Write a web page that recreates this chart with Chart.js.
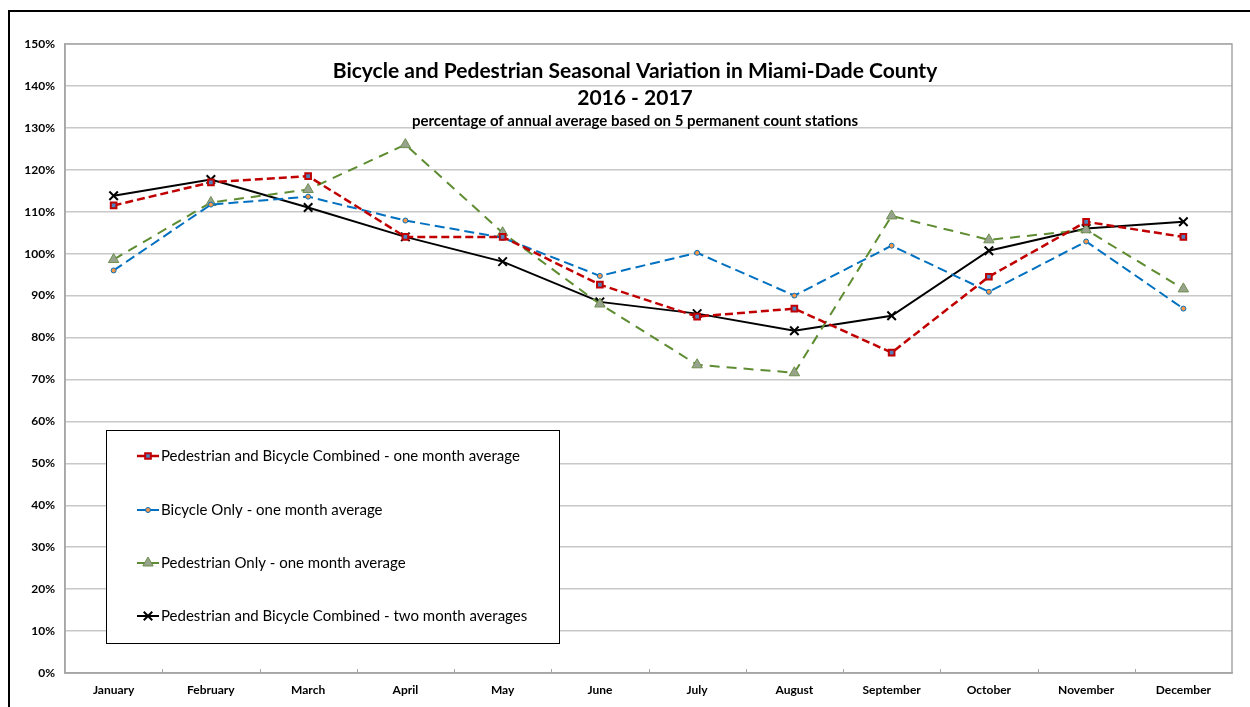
<!DOCTYPE html>
<html lang="en">
<head>
<meta charset="utf-8">
<script src="https://cdn.jsdelivr.net/npm/chart.js@4.4.0/dist/chart.umd.min.js"></script>
<style>
  html, body { margin: 0; padding: 0; background: #fff; }
  #wrap { width: 1250px; height: 707px; }
</style>
</head>
<body>
<div id="wrap"><canvas id="seasonal" width="1250" height="707"></canvas></div>

<script>
// values, percent of annual average
const months = ['January', 'February', 'March', 'April', 'May', 'June',
                'July', 'August', 'September', 'October', 'November', 'December'];
const combinedOneMonth = [111.5, 117, 118.5, 104, 104, 92.6, 85, 86.9, 76.4, 94.5, 107.6, 104];
const bicycleOnly      = [96, 111.7, 113.6, 107.9, 103.8, 94.7, 100.2, 90, 101.9, 90.9, 102.9, 86.9];
const pedestrianOnly   = [98.6, 112.2, 115.3, 126, 105, 88, 73.5, 71.6, 109, 103.3, 105.7, 91.6];
const combinedTwoMonth = [113.8, 117.7, 111, 104, 98.1, 88.5, 85.7, 81.6, 85.2, 100.7, 106, 107.6];
const yTicks = [0, 10, 20, 30, 40, 50, 60, 70, 80, 90, 100, 110, 120, 130, 140, 150];

const titleLines = [
    'Bicycle and Pedestrian Seasonal Variation in Miami-Dade County',
    '2016 - 2017',
    'percentage of annual average based on 5 permanent count stations'
];

const FONT = 'Lato, "Open Sans", sans-serif';

const datasets = [
    {
        label: 'Pedestrian and Bicycle Combined - one month average',
        data: combinedOneMonth,
        borderColor: '#C00000',
        borderWidth: 2.5,
        borderDash: [8, 4],
        pointStyle: 'rect',
        pointRadius: 4,
        pointBackgroundColor: '#4F81BD',
        pointBorderColor: '#C00000',
        pointBorderWidth: 2,
    },
    {
        label: 'Bicycle Only - one month average',
        data: bicycleOnly,
        borderColor: '#0070C0',
        borderWidth: 2,
        borderDash: [10, 5],
        pointStyle: 'circle',
        pointRadius: 2.5,
        pointBackgroundColor: '#F79646',
        pointBorderColor: '#0070C0',
        pointBorderWidth: 1,
    },
    {
        label: 'Pedestrian Only - one month average',
        data: pedestrianOnly,
        borderColor: '#5E8C31',
        borderWidth: 2,
        borderDash: [10, 7],
        pointStyle: 'triangle',
        pointRadius: 6,
        pointBackgroundColor: '#98A38E',
        pointBorderColor: '#6E8F4E',
        pointBorderWidth: 1,
    },
    {
        label: 'Pedestrian and Bicycle Combined - two month averages',
        data: combinedTwoMonth,
        borderColor: '#000000',
        borderWidth: 2,
        pointStyle: 'crossRot',
        pointRadius: 6,
        pointBackgroundColor: '#000000',
        pointBorderColor: '#000000',
        pointBorderWidth: 2,
    }
];
datasets.forEach((d) => { d.fill = false; d.tension = 0; });

// frame, plot border, title and the legend box sit on top of the plot, Excel style
const chartDecor = {
    id: 'chartDecor',
    beforeDraw(chart) {
        const ctx = chart.ctx;
        ctx.save();
        ctx.fillStyle = '#fff';
        ctx.fillRect(0, 0, chart.width, chart.height);
        ctx.strokeStyle = '#000';
        ctx.lineWidth = 2;
        ctx.beginPath();
        ctx.moveTo(9, chart.height);
        ctx.lineTo(9, 11);
        ctx.lineTo(chart.width, 11);
        ctx.stroke();
        ctx.restore();
    },
    beforeDatasetsDraw(chart) {
        const ctx = chart.ctx;
        const a = chart.chartArea;
        ctx.save();
        ctx.strokeStyle = '#A6A6A6';
        ctx.lineWidth = 1.5;
        ctx.strokeRect(a.left, a.top, a.right - a.left, a.bottom - a.top);
        // small category ticks standing up from the axis
        const xs = chart.scales.x;
        ctx.lineWidth = 1;
        ctx.beginPath();
        for (let i = 1; i < months.length; i++) {
            const x = Math.round((xs.getPixelForTick(i - 1) + xs.getPixelForTick(i)) / 2) + 0.5;
            ctx.moveTo(x, a.bottom);
            ctx.lineTo(x, a.bottom - 4);
        }
        ctx.stroke();
        ctx.restore();
    },
    afterDraw(chart) {
        const ctx = chart.ctx;
        ctx.save();
        ctx.fillStyle = '#000';
        ctx.textAlign = 'center';
        ctx.textBaseline = 'middle';
        ctx.font = 'bold 21px ' + FONT;
        ctx.fillText(titleLines[0], 635, 71);
        ctx.fillText(titleLines[1], 635, 98);
        ctx.font = 'bold 15px ' + FONT;
        ctx.fillText(titleLines[2], 635, 121);

        // legend box
        ctx.fillStyle = '#fff';
        ctx.fillRect(106, 430, 453, 213);
        ctx.strokeStyle = '#000';
        ctx.lineWidth = 1;
        ctx.strokeRect(106.5, 430.5, 453, 213);

        const rowY = [456, 510, 563, 616];
        ctx.font = '15px ' + FONT;
        ctx.textAlign = 'left';
        chart.data.datasets.forEach((ds, i) => {
            const y = rowY[i];
            ctx.strokeStyle = ds.borderColor;
            ctx.lineWidth = ds.borderWidth;
            ctx.setLineDash([]);
            ctx.beginPath();
            ctx.moveTo(137, y);
            ctx.lineTo(159, y);
            ctx.stroke();
            ctx.fillStyle = ds.pointBackgroundColor;
            ctx.strokeStyle = ds.pointBorderColor;
            ctx.lineWidth = ds.pointBorderWidth;
            Chart.helpers.drawPoint(ctx, {
                pointStyle: ds.pointStyle,
                radius: ds.pointRadius,
                rotation: 0,
                borderWidth: ds.pointBorderWidth
            }, 148, y);
            ctx.fillStyle = '#000';
            ctx.fillText(ds.label, 161, y);
        });
        ctx.restore();
    }
};

const ctx = document.getElementById('seasonal').getContext('2d');
const seasonalChart = new Chart(ctx, {
    type: 'line',
    data: { labels: months, datasets: datasets },
    options: {
        responsive: false,
        animation: false,
        devicePixelRatio: 1,
        layout: { padding: { left: 0, top: 44, right: 18, bottom: 0 } },
        plugins: {
            legend: { display: false },
            title: { display: false },
            tooltip: { enabled: false }
        },
        scales: {
            x: {
                offset: true,
                grid: { display: false },
                border: { color: '#A6A6A6', width: 1.5 },
                ticks: {
                    color: '#000',
                    padding: 2,
                    maxRotation: 0,
                    autoSkip: false,
                    font: { family: FONT, size: 12, weight: 'bold' }
                },
                afterFit(scale) { scale.height = 34; }
            },
            y: {
                min: 0,
                max: 150,
                afterBuildTicks(scale) { scale.ticks = yTicks.map((v) => ({ value: v })); },
                grid: { color: '#C8C8C8', lineWidth: 1.5, drawTicks: false },
                border: { color: '#A6A6A6', width: 1.5 },
                ticks: {
                    color: '#000',
                    padding: 10,
                    font: { family: FONT, size: 12, weight: 'bold' },
                    callback: (v) => v + '%'
                },
                afterFit(scale) { scale.width = 65; }
            }
        }
    },
    plugins: [chartDecor]
});
</script>
</body>
</html>
